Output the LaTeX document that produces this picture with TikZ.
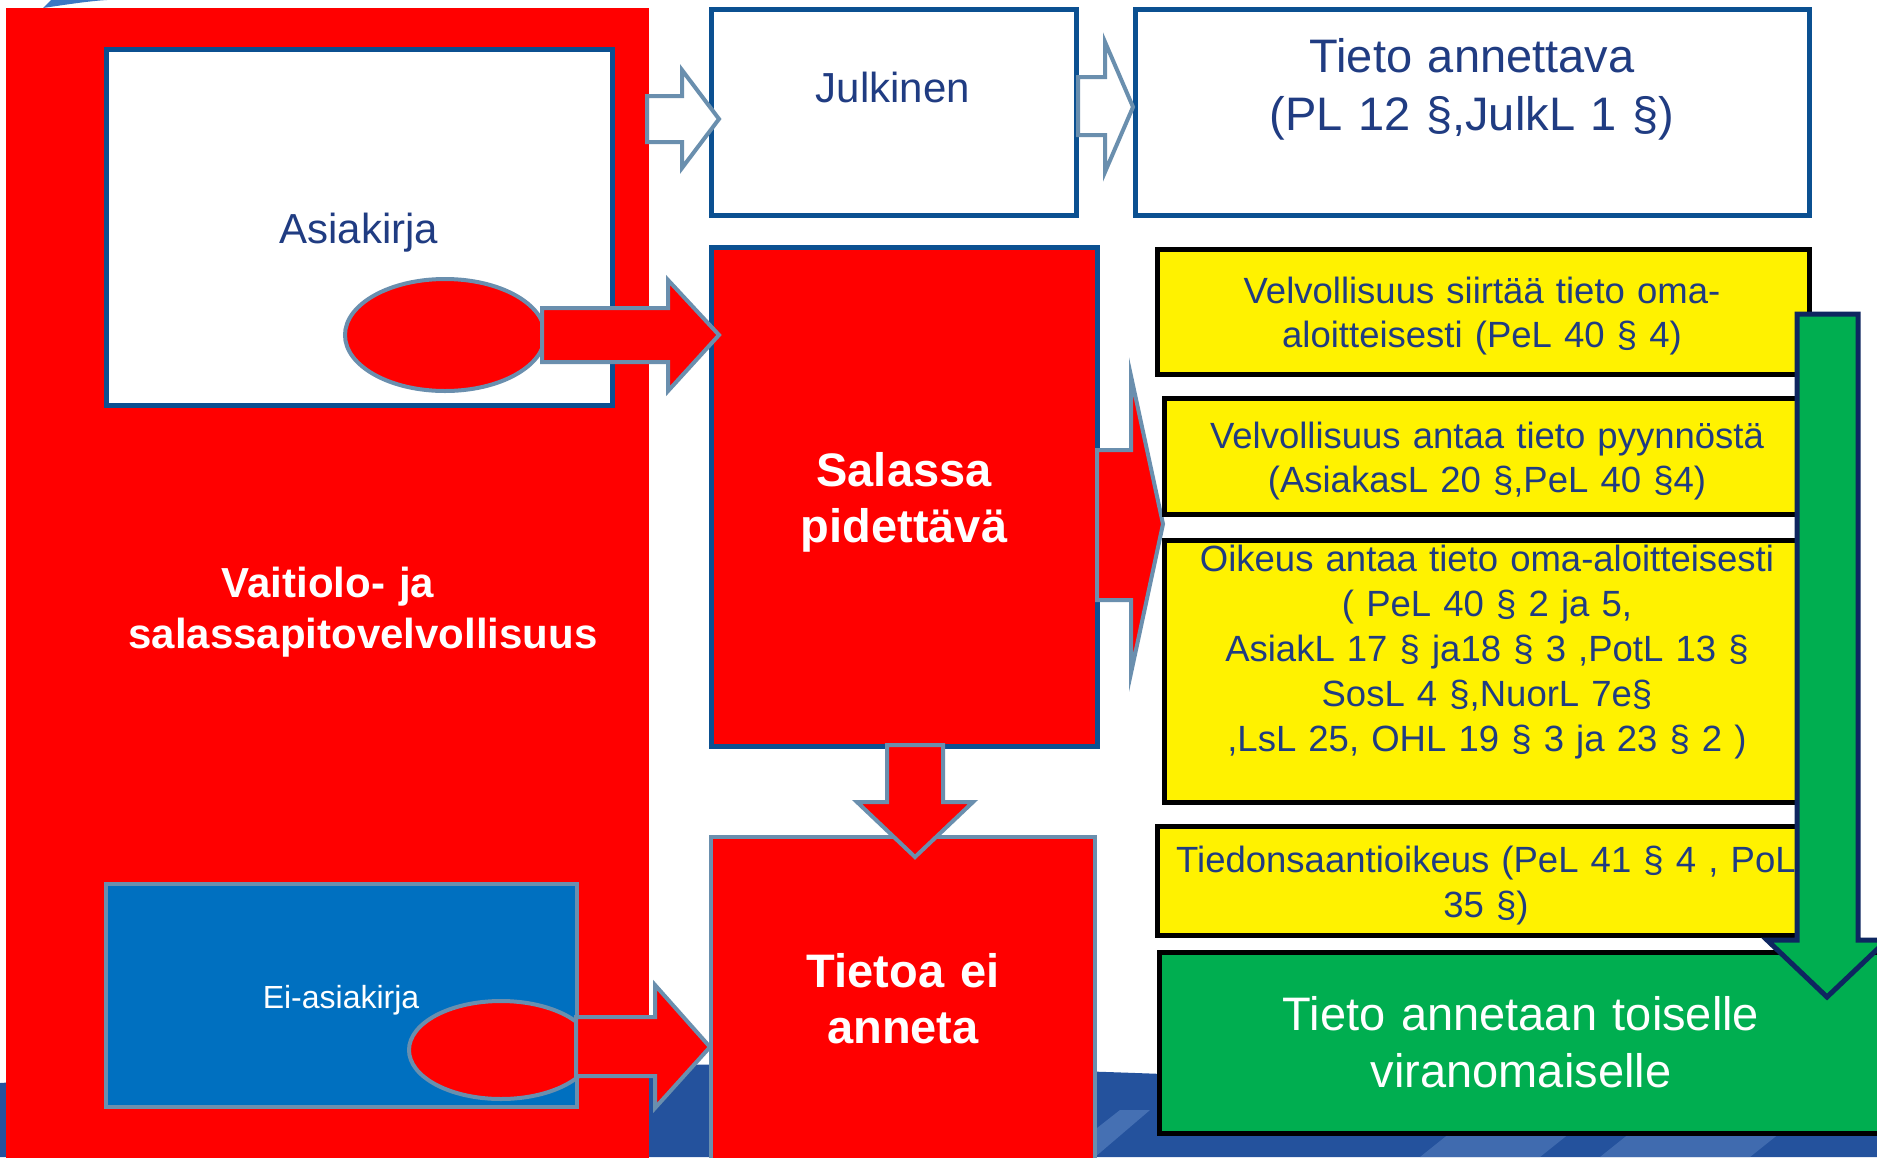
\documentclass[tikz,border=0pt]{standalone}
\usepackage{fontspec}
\setmainfont{Liberation Sans}
\usetikzlibrary{shapes.geometric}
\definecolor{myred}{HTML}{FF0000}
\definecolor{steel}{HTML}{6A8FAE}
\definecolor{darkblue}{HTML}{0B5091}
\definecolor{navytext}{HTML}{203C82}
\definecolor{eiblue}{HTML}{0070C0}
\definecolor{mygreen}{HTML}{00AE50}
\definecolor{arrownavy}{HTML}{0E2660}
\definecolor{bgblue}{HTML}{24529D}
\definecolor{bglight}{HTML}{5C84C2}
\definecolor{swoosh}{HTML}{3B78C4}
\begin{document}
\begin{tikzpicture}[x=1pt,y=-1pt,
  dbox/.style={draw=darkblue, line width=5pt, inner sep=0pt},
  sbox/.style={draw=steel, line width=4.5pt, inner sep=0pt},
  ybox/.style={draw=black, fill=yellow, line width=5pt, inner sep=0pt},
  gbox/.style={draw=black, fill=mygreen, line width=5pt, inner sep=0pt},
  blockarrow/.style={draw=steel, line width=4pt, line join=miter, miter limit=12},
  blob/.style={ellipse, draw=steel, fill=myred, line width=4pt, inner sep=0pt},
  txt/.style={anchor=base, align=center, text width=900pt, inner sep=0pt},
  navy/.style={txt, text=navytext},
  wht/.style={txt, text=white}
]
\useasboundingbox (0,0) rectangle (1877,1157);
% background
\fill[white] (0,0) rectangle (1877,1157);
\fill[bgblue] (0,1083) .. controls (400,1058) and (900,1060) .. (1300,1080) -- (1877,1100) -- (1877,1157) -- (0,1157) -- cycle;
\fill[bglight, opacity=0.6] (1060,1157) -- (1120,1110) -- (1150,1110) -- (1095,1157) -- cycle;
\fill[bglight, opacity=0.5] (1420,1157) -- (1450,1133) -- (1570,1133) -- (1540,1157) -- cycle;
\fill[bglight, opacity=0.5] (1600,1157) -- (1630,1133) -- (1780,1133) -- (1750,1157) -- cycle;
\fill[swoosh] (43,8) .. controls (70,4) and (90,1) .. (107,0) -- (51,0) -- cycle;

% big red frame
\fill[myred] (6,8) rectangle (649,1170);

% boxes
\node[dbox, fill=white, minimum width=506pt, minimum height=356pt] (asia) at (359,227) {};
\node[sbox, fill=eiblue, minimum width=471pt, minimum height=223pt] (eias) at (341.5,995.5) {};
\node[dbox, fill=white, minimum width=365pt, minimum height=206pt] (julk) at (893.5,112) {};
\node[dbox, fill=white, minimum width=674pt, minimum height=206pt] (anne) at (1472,112) {};
\node[dbox, fill=myred, minimum width=386pt, minimum height=499pt] (sala) at (904,496.5) {};
\node[sbox, fill=myred, minimum width=384pt, minimum height=363pt] (eian) at (903,1018.5) {};

% blobs
\node[blob, minimum width=200pt, minimum height=112pt] (ell1) at (445,335) {};
\node[blob, minimum width=184pt, minimum height=98pt] (ell2) at (501,1050) {};

% block arrows
\draw[blockarrow, fill=white] (647,96) -- (682,96) -- (682,70) -- (719,119) -- (682,168) -- (682,142) -- (647,142) -- cycle;
\draw[blockarrow, fill=white] (1078,77) -- (1105,77) -- (1105,42) -- (1133,107) -- (1105,172) -- (1105,135) -- (1078,135) -- cycle;
\draw[blockarrow, fill=myred] (542,308) -- (668,308) -- (668,280) -- (719,335) -- (668,391) -- (668,362) -- (542,362) -- cycle;
\draw[blockarrow, fill=myred] (576,1017) -- (655,1017) -- (655,985) -- (710,1047) -- (655,1108) -- (655,1076) -- (576,1076) -- cycle;
\draw[blockarrow, fill=myred] (887,745) -- (943,745) -- (943,802) -- (973,802) -- (915,857) -- (857,802) -- (887,802) -- cycle;
\draw[blockarrow, fill=myred] (1097,450) -- (1131,450) -- (1131,376) -- (1163,524) -- (1131,673) -- (1131,600) -- (1097,600) -- cycle;

% yellow boxes
\node[ybox, minimum width=652pt, minimum height=125pt] (y1) at (1483,311.5) {};
\node[ybox, minimum width=641pt, minimum height=116pt] (y2) at (1484.5,456) {};
\node[ybox, minimum width=641pt, minimum height=262pt] (y3) at (1484.5,671) {};
\node[ybox, minimum width=648pt, minimum height=109pt] (y4) at (1481,880.5) {};
\node[gbox, minimum width=731pt, minimum height=181pt] (gr) at (1524.5,1042.5) {};

% texts
\node[navy, font=\fontsize{42}{50}\selectfont] (asiat) at (359,243) {Asiakirja};
\node[navy, font=\fontsize{42}{50}\selectfont] (julkt) at (893,102) {Julkinen};
\node[navy, font=\fontsize{47}{58}\selectfont] (annet) at (1472,72) {Tieto annettava\\(PL 12 §,JulkL 1 §)};
\node[wht, font=\fontsize{47}{56}\selectfont\bfseries] (salat) at (904,486) {Salassa\\pidettävä};
\node[wht, font=\fontsize{47}{56}\selectfont\bfseries] (eiant) at (903,987) {Tietoa ei\\anneta};
\node[wht, font=\fontsize{42}{51}\selectfont\bfseries] (vait) at (363,597) {Vaitiolo- ja\hspace*{70pt}\mbox{}\\salassapitovelvollisuus};
\node[wht, font=\fontsize{32}{40}\selectfont] (eiast) at (341,1008) {Ei-asiakirja};
\node[navy, font=\fontsize{36.5}{44}\selectfont] (y1t) at (1482,303) {Velvollisuus siirtää tieto oma-\\aloitteisesti (PeL 40 § 4)};
\node[navy, font=\fontsize{36.5}{44}\selectfont] (y2t) at (1487,448) {Velvollisuus antaa tieto pyynnöstä\\(AsiakasL 20 §,PeL 40 §4)};
\node[navy, font=\fontsize{36.5}{45}\selectfont] (y3t) at (1487,571) {Oikeus antaa tieto oma-aloitteisesti\\( PeL 40 § 2 ja 5,\\AsiakL 17 § ja18 § 3 ,PotL 13 §\\SosL 4 §,NuorL 7e§\\,LsL 25, OHL 19 § 3 ja 23 § 2 )};
\node[navy, font=\fontsize{36.5}{45}\selectfont] (y4t) at (1486,872) {Tiedonsaantioikeus (PeL 41 § 4 , PoL\\35 §)};
\node[wht, font=\fontsize{47}{57}\selectfont] (grt) at (1521,1030) {Tieto annetaan toiselle\\viranomaiselle};

% green arrow
\draw[draw=arrownavy, fill=mygreen, line width=5pt, line join=miter] (1797,314) -- (1858,314) -- (1858,940) -- (1887,940) -- (1827,997) -- (1767,940) -- (1797,940) -- cycle;
\end{tikzpicture}
\end{document}
